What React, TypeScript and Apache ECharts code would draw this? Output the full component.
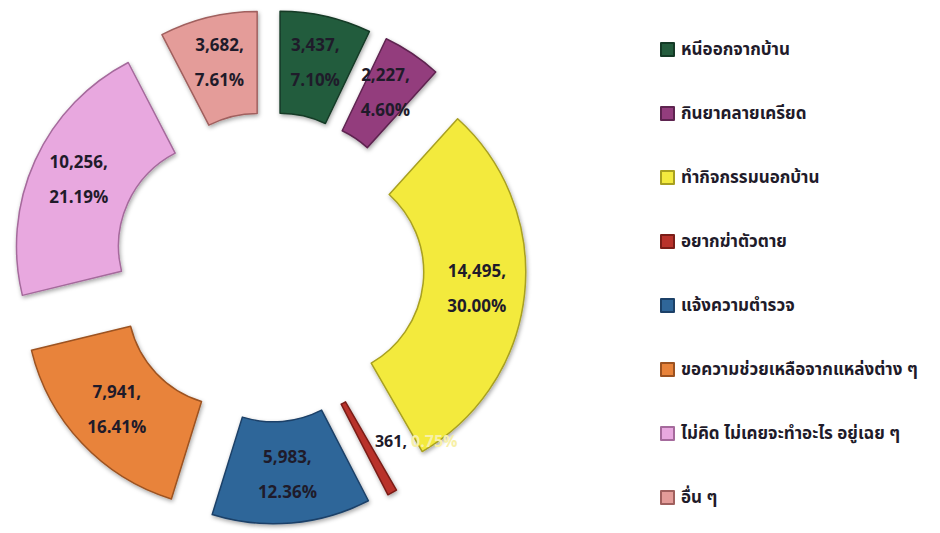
import React, { useEffect, useRef } from "react";
import * as echarts from "echarts";

const categories = [
  "หนีออกจากบ้าน",
  "กินยาคลายเครียด",
  "ทำกิจกรรมนอกบ้าน",
  "อยากฆ่าตัวตาย",
  "แจ้งความตำรวจ",
  "ขอความช่วยเหลือจากแหล่งต่าง ๆ",
  "ไม่คิด ไม่เคยจะทำอะไร อยู่เฉย ๆ",
  "อื่น ๆ",
];
const counts = [3437, 2227, 14495, 361, 5983, 7941, 10256, 3682];
const percents = [7.1, 4.6, 30.0, 0.75, 12.36, 16.41, 21.19, 7.61];
const colors = ["#245c3d", "#933d7d", "#f3ea3e", "#b9322b", "#2f6699", "#e8833a", "#e8a8df", "#e49c99"];
const borders = ["#143a26", "#5e2450", "#a8a020", "#7a1d18", "#1c4168", "#9c5220", "#a56a9c", "#a0605e"];

const FONT = "Tahoma, Verdana, 'Noto Sans Thai', 'DejaVu Sans', sans-serif";

export default function App() {
  const ref = useRef<HTMLDivElement>(null);
  useEffect(() => {
    if (!ref.current) return;
    const chart = echarts.init(ref.current, undefined, { renderer: "svg" });
    const data = categories.map((name, i) => {
      const item: any = {
        name,
        value: counts[i],
        selected: true,
        itemStyle: {
          color: colors[i],
          borderColor: borders[i],
          borderWidth: 1.5,
          shadowBlur: 4,
          shadowOffsetX: 1,
          shadowOffsetY: 2,
          shadowColor: "rgba(0,0,0,0.35)",
        },
      };
      if (i === 3) {
        item.label = {
          formatter: (p: any) =>
            `{a|${counts[p.dataIndex].toLocaleString("en-US")}, }{b|${percents[p.dataIndex].toFixed(2)}%}`,
          rich: {
            a: { color: "#1f1b2a", fontSize: 16, fontWeight: "bold", fontFamily: FONT },
            b: { color: "#f7f0a8", fontSize: 16, fontWeight: "bold", fontFamily: FONT },
          },
        };
      }
      return item;
    });
    chart.setOption({
      animation: false,
      backgroundColor: "#ffffff",
      legend: {
        orient: "vertical",
        left: 655,
        top: 36,
        itemWidth: 13,
        itemHeight: 13,
        itemGap: 47,
        icon: "rect",
        selectedMode: false,
        textStyle: { color: "#1f1b2a", fontSize: 17, fontWeight: "bold", fontFamily: FONT, padding: [0, 0, 0, 2] },
        data: categories,
      },
      series: [
        {
          type: "pie",
          center: [269, 267],
          radius: [105, 207],
          startAngle: 90,
          clockwise: true,
          selectedMode: "multiple",
          selectedOffset: 50,
          avoidLabelOverlap: false,
          emphasis: { disabled: true },
          label: {
            show: true,
            position: "inside",
            color: "#1f1b2a",
            fontSize: 17,
            fontWeight: "bold",
            fontFamily: FONT,
            lineHeight: 35,
            formatter: (p: any) =>
              `${counts[p.dataIndex].toLocaleString("en-US")},\n${percents[p.dataIndex].toFixed(2)}%`,
          },
          labelLayout: (params: any) => (params.dataIndex === 3 ? { dx: 47, dy: -8 } : {}),
          labelLine: { show: false },
          data,
        },
      ],
    });
    return () => chart.dispose();
  }, []);
  return (
    <div
      ref={ref}
      style={{ position: "fixed", left: 0, top: 0, width: 940, height: 533, background: "#fff" }}
    />
  );
}
